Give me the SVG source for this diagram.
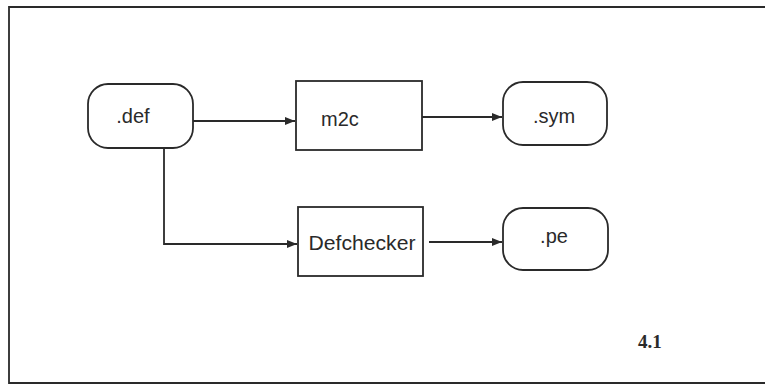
<svg xmlns="http://www.w3.org/2000/svg" width="765" height="385" viewBox="0 0 765 385">
<defs>
<style>
.box{fill:none;stroke:#2a2a2a;stroke-width:1.8}
.lbl{font-family:"Liberation Sans",Arial,sans-serif;font-size:20px;fill:#2a2a2a}
.edge{fill:none;stroke:#2a2a2a;stroke-width:1.8}
</style>
<marker id="ah" viewBox="0 0 10 8" refX="10" refY="4" markerWidth="10" markerHeight="8" markerUnits="userSpaceOnUse" orient="auto">
<path d="M0,0 L10,4 L0,8 Z" fill="#2a2a2a"/>
</marker>
</defs>
<rect width="765" height="385" fill="#ffffff"/>
<path d="M770,7 L9,7 L9,383 L770,383" fill="none" stroke="#2a2a2a" stroke-width="1.8"/>
<g id="def"><rect class="box" x="88" y="84" width="105" height="64" rx="20"/><text class="lbl" x="133" y="123" text-anchor="middle">.def</text></g>
<g id="m2c"><rect class="box" x="296" y="81" width="126" height="69"/><text class="lbl" x="321" y="126">m2c</text></g>
<g id="sym"><rect class="box" x="503" y="82" width="104" height="63" rx="20"/><text class="lbl" x="554" y="123" text-anchor="middle">.sym</text></g>
<g id="defchecker"><rect class="box" x="298" y="207" width="125" height="69"/><text class="lbl" x="362" y="250" text-anchor="middle" textLength="107" lengthAdjust="spacingAndGlyphs">Defchecker</text></g>
<g id="pe"><rect class="box" x="503" y="208" width="105" height="62" rx="20"/><text class="lbl" x="554" y="243" text-anchor="middle">.pe</text></g>
<g id="connectors">
<path class="edge" d="M193,121 L295,121" marker-end="url(#ah)"/>
<path class="edge" d="M422,117 L502,117" marker-end="url(#ah)"/>
<path class="edge" d="M164,148 L164,244 L297,244" marker-end="url(#ah)"/>
<path class="edge" d="M429,242 L502,242" marker-end="url(#ah)"/>
</g>
<text x="638" y="348" font-family="'Liberation Serif','Times New Roman',serif" font-size="19" font-weight="bold" fill="#2a2a2a">4.1</text>
</svg>
